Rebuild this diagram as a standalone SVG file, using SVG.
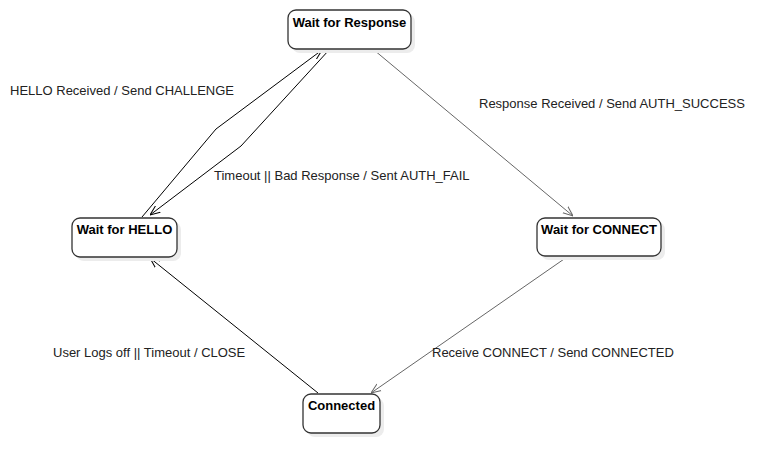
<svg xmlns="http://www.w3.org/2000/svg" width="784" height="473" viewBox="0 0 784 473">
<style>
.shadow{fill:#ececec;stroke:none}
.box{fill:#fff;stroke:#333;stroke-width:1.3}
.title{font-family:"Liberation Sans",Arial,sans-serif;font-size:13px;font-weight:bold;fill:#000;text-anchor:middle}
.lbl{font-family:"Liberation Sans",Arial,sans-serif;font-size:13px;fill:#222}
.e{fill:none;stroke:#000;stroke-width:1}
.g{fill:none;stroke:#666;stroke-width:1}
</style>
<defs>
<marker id="ab" viewBox="0 0 10 10" refX="10" refY="5" markerWidth="10" markerHeight="10" markerUnits="userSpaceOnUse" orient="auto">
<path d="M0,1 L10,5 L0,9" fill="none" stroke="#000" stroke-width="1"/>
</marker>
<marker id="ag" viewBox="0 0 10 10" refX="10" refY="5" markerWidth="10" markerHeight="10" markerUnits="userSpaceOnUse" orient="auto">
<path d="M0,1 L10,5 L0,9" fill="none" stroke="#666" stroke-width="1"/>
</marker>
</defs>
<rect width="784" height="473" fill="#fff"/>
<g id="edges">
<path class="e" d="M142,217 L216,129 L322,50" marker-end="url(#ab)"/>
<path class="e" d="M329,50 L241,146 L150,215" marker-end="url(#ab)"/>
<path class="g" d="M374,50 L573,216" marker-end="url(#ag)"/>
<path class="g" d="M567,257 L371,393" marker-end="url(#ag)"/>
<path class="e" d="M318,393 L150,258" marker-end="url(#ab)"/>
<text class="lbl" x="10" y="95">HELLO Received / Send CHALLENGE</text>
<text class="lbl" x="479" y="108">Response Received / Send AUTH_SUCCESS</text>
<text class="lbl" x="214" y="180">Timeout || Bad Response / Sent AUTH_FAIL</text>
<text class="lbl" x="53" y="357">User Logs off || Timeout / CLOSE</text>
<text class="lbl" x="432" y="357">Receive CONNECT / Send CONNECTED</text>
</g>
<g id="wait-response">
<rect class="shadow" x="292" y="14" width="123" height="39" rx="8"/>
<rect class="box" x="288" y="10" width="123" height="39" rx="8"/>
<text class="title" x="349.5" y="27">Wait for Response</text>
</g>
<g id="wait-hello">
<rect class="shadow" x="76" y="222" width="105" height="39" rx="8"/>
<rect class="box" x="72" y="218" width="105" height="39" rx="8"/>
<text class="title" x="124.5" y="234">Wait for HELLO</text>
</g>
<g id="wait-connect">
<rect class="shadow" x="541" y="222" width="124" height="38" rx="8"/>
<rect class="box" x="537" y="218" width="124" height="38" rx="8"/>
<text class="title" x="599" y="234">Wait for CONNECT</text>
</g>
<g id="connected">
<rect class="shadow" x="307" y="398" width="77" height="39" rx="8"/>
<rect class="box" x="303" y="394" width="77" height="39" rx="8"/>
<text class="title" x="341.5" y="410">Connected</text>
</g>
</svg>
